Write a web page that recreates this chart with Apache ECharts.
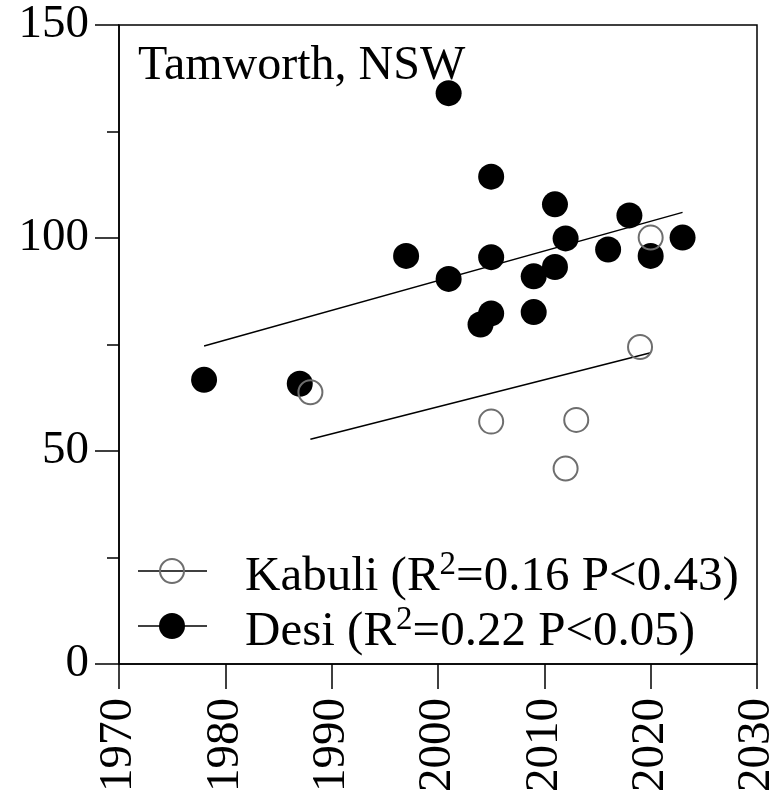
<!DOCTYPE html>
<html>
<head>
<meta charset="utf-8">
<script src="https://cdn.jsdelivr.net/npm/echarts@6/dist/echarts.min.js"></script>
<style>
  html, body { margin: 0; padding: 0; background: #ffffff; }
  #chart { width: 778px; height: 799px; }
</style>
</head>
<body>
<div id="chart"></div>
<script>
// Desi chickpea: release year and value
const desiYears  = [1978, 1987, 1997, 2001, 2001, 2004, 2005, 2005, 2005, 2009, 2009, 2011, 2011, 2012, 2016, 2018, 2020, 2023];
const desiValues = [66.7, 65.8, 95.8, 134.0, 90.4, 79.7, 114.4, 95.5, 82.3, 91.0, 82.6, 107.9, 93.2, 99.9, 97.3, 105.3, 95.8, 100.1];

// Kabuli chickpea: release year and value
const kabuliYears  = [1988, 2005, 2012, 2013, 2019, 2020];
const kabuliValues = [63.8, 56.9, 45.9, 57.3, 74.4, 100.1];

// Axis tick labels
const xTickLabels = [1970, 1980, 1990, 2000, 2010, 2020, 2030];
const yTickLabels = [0, 50, 100, 150];

const siteName = 'Tamworth, NSW';
const kabuliStats = { r2: '0.16', p: '0.43' };
const desiStats   = { r2: '0.22', p: '0.05' };

const FONT = '"Liberation Serif", "Times New Roman", serif';

// Least-squares line spanning the observed year range
function fitLine(xs, ys) {
  const n = xs.length;
  const mx = xs.reduce((a, b) => a + b, 0) / n;
  const my = ys.reduce((a, b) => a + b, 0) / n;
  let sxy = 0, sxx = 0;
  for (let i = 0; i < n; i++) {
    sxy += (xs[i] - mx) * (ys[i] - my);
    sxx += (xs[i] - mx) * (xs[i] - mx);
  }
  const slope = sxy / sxx;
  const x0 = Math.min(...xs), x1 = Math.max(...xs);
  return [[x0, my + slope * (x0 - mx)], [x1, my + slope * (x1 - mx)]];
}

const pairs = (xs, ys) => xs.map((x, i) => [x, ys[i]]);

const chart = echarts.init(document.getElementById('chart'), null, { renderer: 'canvas' });

const axisLabelStyle = { color: '#000', fontFamily: FONT, fontSize: 47, formatter: (v) => String(v) };

const supStyle = { fontSize: 33, fontFamily: FONT, fill: '#000', verticalAlign: 'top', padding: [0, 0, 24, 0] };

const option = {
  animation: false,
  backgroundColor: '#ffffff',
  grid: {
    left: 119, right: 21, top: 25, bottom: 135,
    outerBoundsMode: 'none',
    containLabel: false,
    show: true, borderColor: '#000', borderWidth: 1.5, backgroundColor: 'transparent'
  },
  xAxis: {
    type: 'value',
    min: xTickLabels[0],
    max: xTickLabels[xTickLabels.length - 1],
    interval: 10,
    splitLine: { show: false },
    axisLine: { show: true, onZero: false, lineStyle: { color: '#000', width: 1.5 } },
    axisTick: { show: true, length: 25, lineStyle: { color: '#000', width: 1.5 } },
    axisLabel: Object.assign({ rotate: 90, margin: 34, hideOverlap: false }, axisLabelStyle)
  },
  yAxis: {
    type: 'value',
    min: yTickLabels[0],
    max: yTickLabels[yTickLabels.length - 1],
    interval: 50,
    splitLine: { show: false },
    axisLine: { show: true, lineStyle: { color: '#000', width: 1.5 } },
    axisTick: { show: true, length: 24, lineStyle: { color: '#000', width: 1.5 } },
    minorTick: { show: true, splitNumber: 2, length: 12, lineStyle: { color: '#000', width: 1.5 } },
    minorSplitLine: { show: false },
    axisLabel: Object.assign({ margin: 30 }, axisLabelStyle)
  },
  series: [
    {
      name: 'Desi trend',
      type: 'line',
      data: fitLine(desiYears, desiValues),
      showSymbol: false,
      lineStyle: { color: '#000', width: 1.5 },
      z: 2
    },
    {
      name: 'Kabuli trend',
      type: 'line',
      data: fitLine(kabuliYears, kabuliValues),
      showSymbol: false,
      lineStyle: { color: '#000', width: 1.5 },
      z: 2
    },
    {
      name: 'Desi',
      type: 'scatter',
      data: pairs(desiYears, desiValues),
      symbol: 'circle',
      symbolSize: 26,
      itemStyle: { color: '#000', opacity: 1 },
      z: 3
    },
    {
      name: 'Kabuli',
      type: 'scatter',
      data: pairs(kabuliYears, kabuliValues),
      symbol: 'circle',
      symbolSize: 24,
      itemStyle: { color: 'rgba(0,0,0,0)', borderColor: '#6e6e6e', borderWidth: 2, opacity: 1 },
      z: 4
    }
  ],
  graphic: [
    {
      type: 'text', left: 138, top: 42, z: 10,
      style: { text: siteName, font: '48px ' + FONT, fill: '#000' }
    },
    // Legend: Kabuli row
    { type: 'line', z: 10, shape: { x1: 138, y1: 571, x2: 207, y2: 571 }, style: { stroke: '#000', lineWidth: 1.5 } },
    { type: 'circle', z: 11, shape: { cx: 172, cy: 571, r: 12 }, style: { fill: 'rgba(0,0,0,0)', stroke: '#6e6e6e', lineWidth: 2 } },
    {
      type: 'text', z: 10, left: 245, top: 549,
      style: {
        text: 'Kabuli (R{sup|2}=' + kabuliStats.r2 + ' P<' + kabuliStats.p + ')',
        font: '49px ' + FONT, fill: '#000',
        rich: { sup: supStyle }
      }
    },
    // Legend: Desi row
    { type: 'line', z: 10, shape: { x1: 138, y1: 626, x2: 207, y2: 626 }, style: { stroke: '#000', lineWidth: 1.5 } },
    { type: 'circle', z: 11, shape: { cx: 172, cy: 626, r: 13 }, style: { fill: '#000' } },
    {
      type: 'text', z: 10, left: 245, top: 604,
      style: {
        text: 'Desi (R{sup|2}=' + desiStats.r2 + ' P<' + desiStats.p + ')',
        font: '49px ' + FONT, fill: '#000',
        rich: { sup: supStyle }
      }
    }
  ]
};

chart.setOption(option);
</script>
</body>
</html>
